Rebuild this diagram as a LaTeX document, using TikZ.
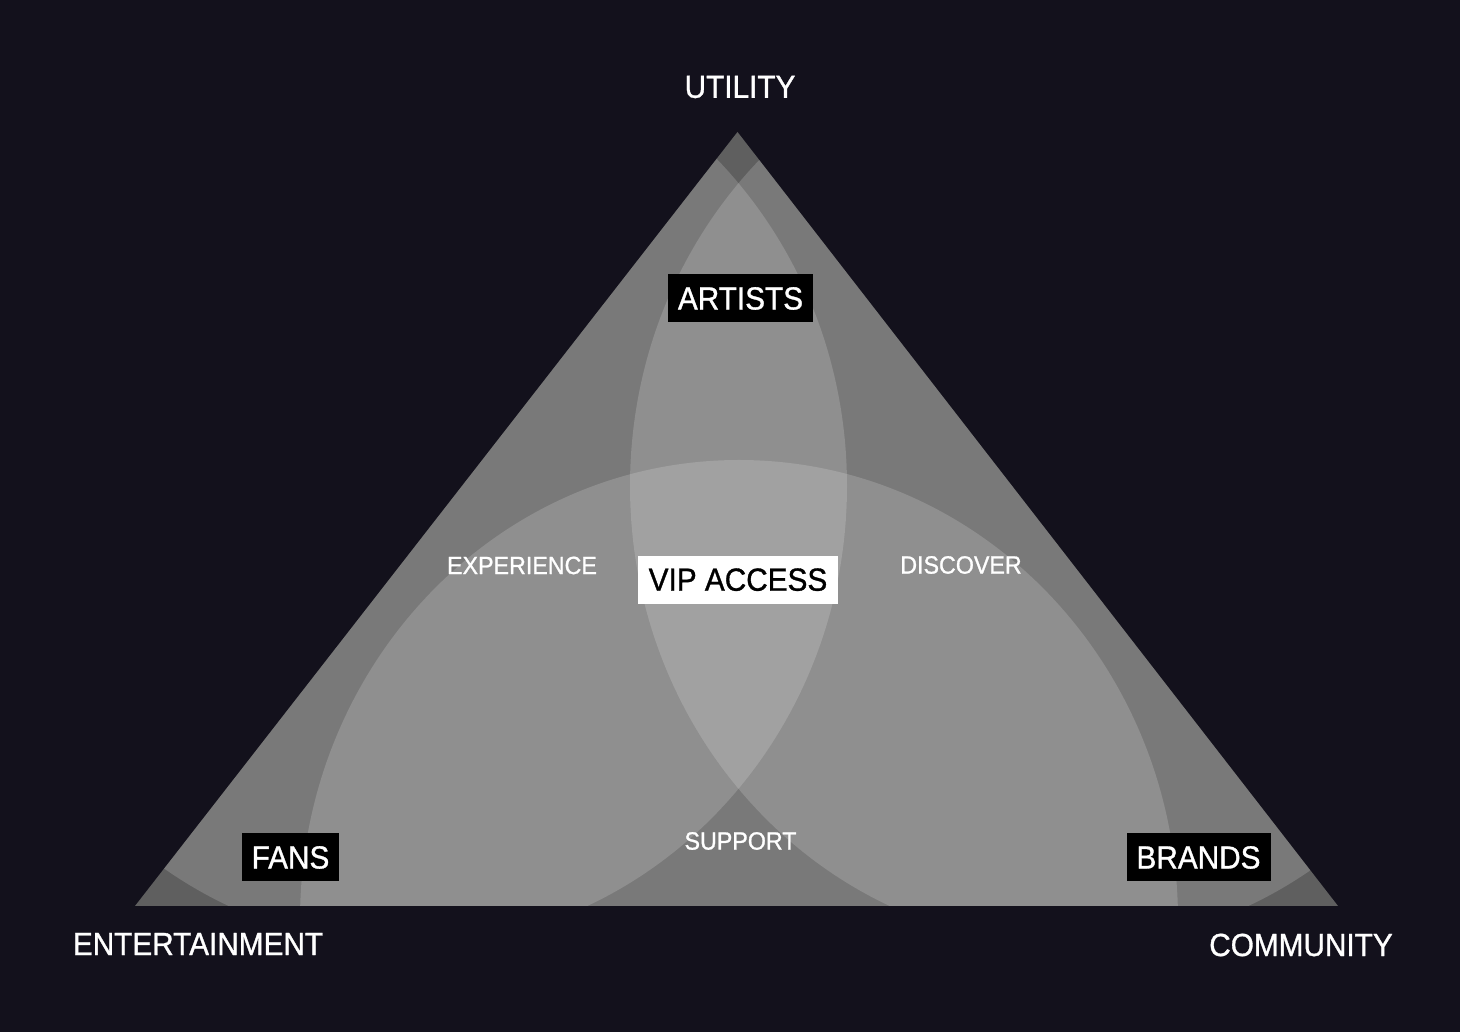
\documentclass[tikz,border=0pt]{standalone}
\usepackage{fontspec}
\setmainfont{Liberation Sans}[FakeStretch=0.93,FakeBold=1]
\definecolor{night}{RGB}{19,17,28}
\definecolor{slate}{RGB}{95,95,95}
\tikzset{
	venn/.style={fill=white,fill opacity=0.165},
	corner/.style={text=white,font=\fontsize{16}{18}\selectfont},
	zone/.style={text=white,font=\fontsize{12.5}{14}\selectfont},
	tag/.style={fill=black,text=white,font=\fontsize{16}{18}\selectfont,inner xsep=5pt,inner ysep=0pt,minimum height=24pt},
	hub/.style={tag,fill=white,text=black,inner xsep=5.5pt},
}
\begin{document}
\begin{tikzpicture}[x=0.5pt,y=0.5pt]
	\fill[night] (0,0) rectangle (1460,1032);
	\useasboundingbox (0,0) rectangle (1460,1032);
	\coordinate (U) at (737.5,900);
	\coordinate (E) at (135,126);
	\coordinate (C) at (1338,126);
	\fill[slate] (U)--(E)--(C)--cycle;
	\begin{scope}
	\clip (U)--(E)--(C)--cycle;
	\foreach \c in {{408,546},{1069,546},{739,112}}
	\fill[venn] (\c) ellipse [x radius=439,y radius=460];
	\end{scope}
	\node[corner] (utility) at (740,945) {UTILITY};
	\node[corner] (entertainment) at (198,88) {ENTERTAINMENT};
	\node[corner] (community) at (1301,87) {COMMUNITY};
	\node[tag] (artists) at (740.5,733.5) {ARTISTS};
	\node[tag] (fans) at (290.5,174.5) {FANS};
	\node[tag] (brands) at (1198.5,174.5) {BRANDS};
	\node[hub] (vip) at (738,452.3) {VIP ACCESS};
	\node[zone] (experience) at (522,466.5) {EXPERIENCE};
	\node[zone] (discover) at (961,467) {DISCOVER};
	\node[zone] (support) at (740.5,191) {SUPPORT};
\end{tikzpicture}
\end{document}
